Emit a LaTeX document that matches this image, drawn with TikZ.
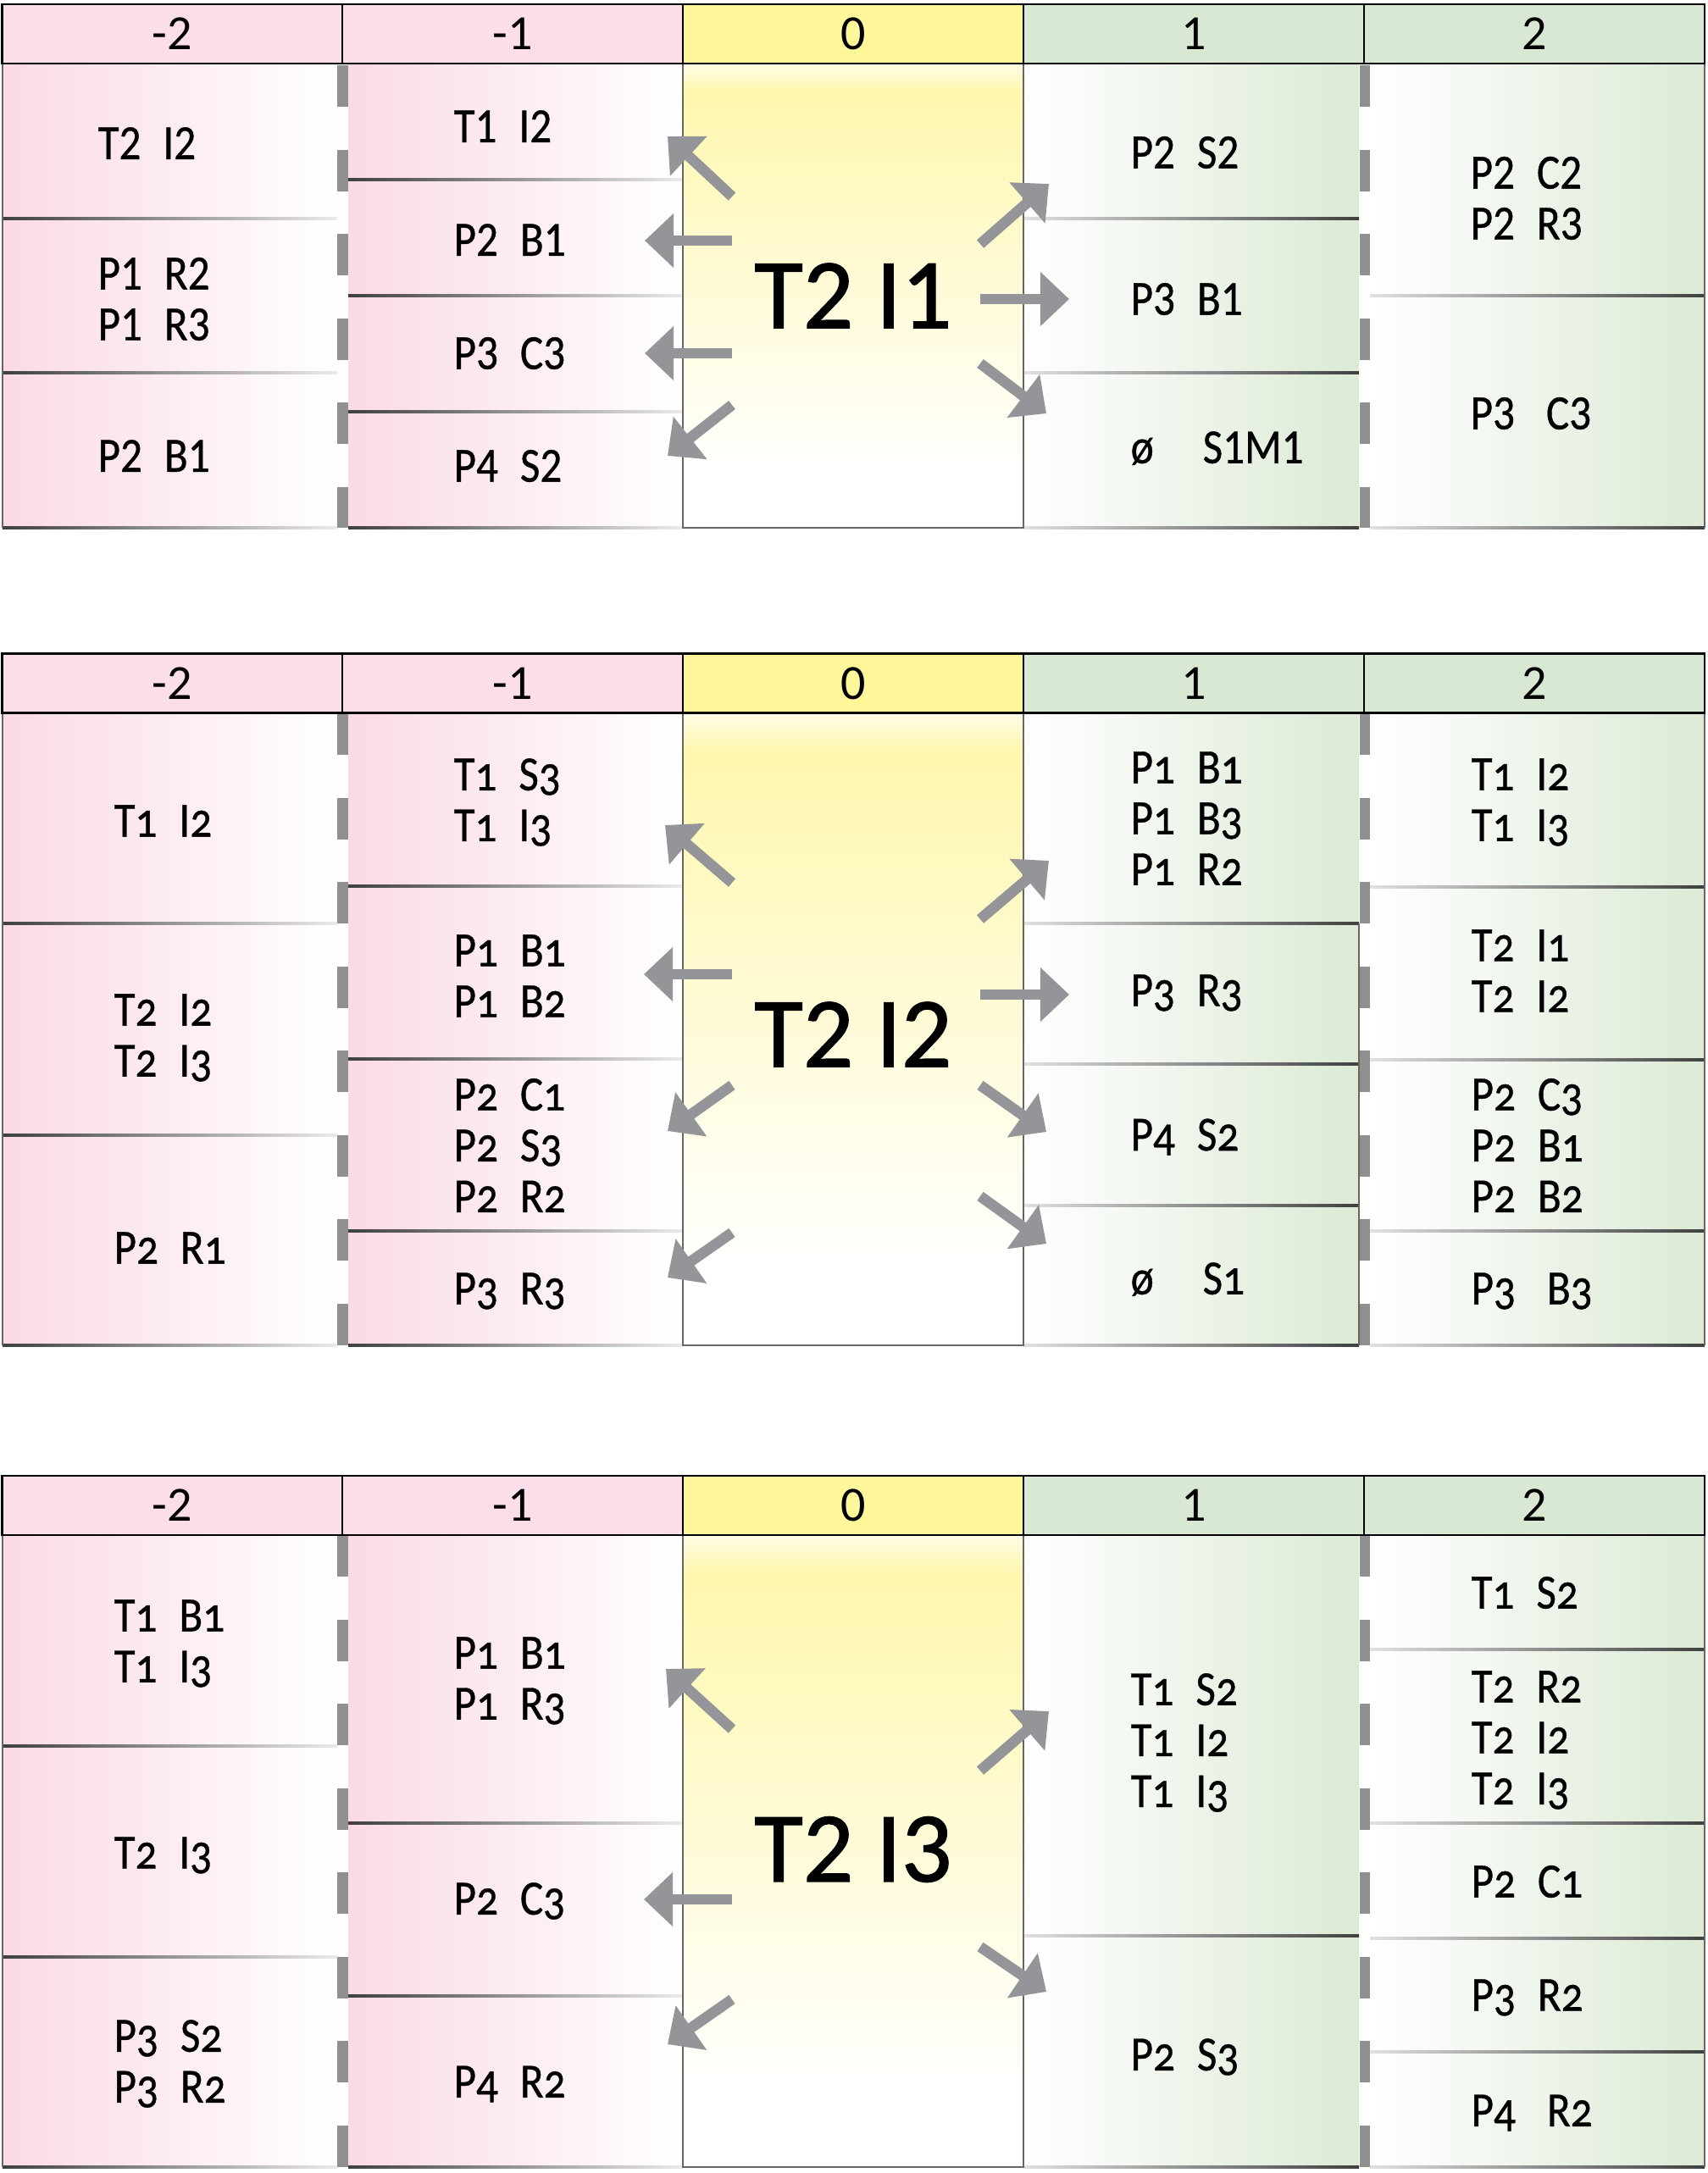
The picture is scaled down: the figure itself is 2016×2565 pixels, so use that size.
\documentclass[tikz,border=0pt]{standalone}
\usepackage{fontspec}
\usetikzlibrary{arrows.meta}
\setmainfont{Carlito}
\newfontfamily\fsa[FakeStretch=0.88,FakeBold=0.6]{Carlito}
\newfontfamily\fsb[FakeStretch=0.88,FakeBold=0.6,Numbers=OldStyle]{Carlito}
\newfontfamily\fbg[FakeBold=1.2]{Carlito}
\newfontfamily\fhd{Carlito}
\definecolor{hpink}{HTML}{FCDDEA}
\definecolor{hyel}{HTML}{FFF799}
\definecolor{hgreen}{HTML}{D9E8D3}
\definecolor{cpink}{HTML}{FADAE6}
\definecolor{cyel}{HTML}{FFF7AE}
\definecolor{cgreen}{HTML}{DCEAD6}
\definecolor{cgray}{HTML}{939598}
\definecolor{cdash}{HTML}{909090}
\newcommand\gp{\hspace{0.26cm}}
\newcommand\gpm{\hspace{0.37cm}}
\newcommand\gpw{\hspace{0.58cm}}
\begin{document}
\begin{tikzpicture}[x=0.01cm,y=-0.01cm,
  hdr/.style={draw=black, line width=0.025cm, minimum width=4.02cm, minimum height=0.70cm, inner sep=0pt, font=\fhd\fontsize{16.5}{18}\selectfont},
  txa/.style={anchor=west, inner sep=0pt, align=left, font=\fsa\fontsize{16.5}{17.1}\selectfont},
  txb/.style={anchor=west, inner sep=0pt, align=left, font=\fsb\fontsize{16.5}{17.1}\selectfont},
  big/.style={inner sep=0pt, font=\fbg\fontsize{33.5}{36}\selectfont},
  pinkfill/.style={left color=cpink, right color=white},
  greenfill/.style={left color=white, right color=cgreen},
  sepp/.style={left color=black!75, right color=black!8},
  sepg/.style={left color=black!12, right color=black!75},
  divider/.style={draw=cdash, line width=0.12cm, dash pattern=on 0.49cm off 0.505cm},
  frame/.style={draw=black!60, line width=0.02cm},
  arr/.style={draw=cgray, line width=0.125cm, -{Triangle[length=0.34cm,width=0.62cm]}}
]
\useasboundingbox (0,0) rectangle (2016,2565);
\fill[white] (0,0) rectangle (2016,2565);

% ================= PANEL 1 =================
\fill[pinkfill] (3,75) rectangle (398,623);
\fill[pinkfill] (411,75) rectangle (806,623);
\fill[greenfill] (1208,75) rectangle (1604,623);
\fill[greenfill] (1617,75) rectangle (2012,623);
\fill[top color=cyel!30!white, bottom color=cyel] (806,75) rectangle (1208,108);
\fill[top color=cyel, bottom color=white] (806,108) rectangle (1208,560);
\foreach \yy in {258,440,623} {\fill[sepp] (3,\yy-1.2) rectangle (398,\yy+1.2);}
\foreach \yy in {212,349,486,623} {\fill[sepp] (411,\yy-1.2) rectangle (806,\yy+1.2);}
\foreach \yy in {258,440,623} {\fill[sepg] (1208,\yy-1.2) rectangle (1604,\yy+1.2);}
\foreach \yy in {349,623} {\fill[sepg] (1617,\yy-1.2) rectangle (2012,\yy+1.2);}
\draw[frame] (3,75) -- (3,623);
\draw[frame] (2012,75) -- (2012,623);
\draw[frame] (806,75) -- (806,623) -- (1208,623) -- (1208,75);
\draw[divider] (404.5,77) -- (404.5,623);
\draw[divider] (1610.5,77) -- (1610.5,623);
\node[hdr, fill=hpink] (p1h1) at (203.5,40) {-2};
\node[hdr, fill=hpink] (p1h2) at (605,40) {-1};
\node[hdr, fill=hyel] (p1h3) at (1007,40) {0};
\node[hdr, fill=hgreen] (p1h4) at (1409,40) {1};
\node[hdr, fill=hgreen] (p1h5) at (1811,40) {2};
\node[txa] (p1a1) at (115,169) {T2\gp I2};
\node[txa] (p1a2) at (115,353) {P1\gp R2\\P1\gp R3};
\node[txa] (p1a3) at (115,538) {P2\gp B1};
\node[txa] (p1b1) at (535,149) {T1\gp I2};
\node[txa] (p1b2) at (535,283) {P2\gp B1};
\node[txa] (p1b3) at (535,417) {P3\gp C3};
\node[txa] (p1b4) at (535,550) {P4\gp S2};
\node[txa] (p1d1) at (1334,180) {P2\gp S2};
\node[txa] (p1d2) at (1334,353) {P3\gp B1};
\node[txa] (p1d3) at (1334,529) {ø\gpw S1M1};
\node[txa] (p1e1) at (1735,234) {P2\gp C2\\P2\gp R3};
\node[txa] (p1e2) at (1735,488) {P3\gpm C3};
\node[big] (p1c) at (1007,349) {T2 I1};
\coordinate (p1s1) at (864,232);  \coordinate (p1t1) at (788,161);
\coordinate (p1s2) at (864,284);  \coordinate (p1t2) at (761,284);
\coordinate (p1s3) at (864,417);  \coordinate (p1t3) at (761,417);
\coordinate (p1s4) at (864,478);  \coordinate (p1t4) at (788,538);
\coordinate (p1s5) at (1157,288); \coordinate (p1t5) at (1238,217);
\coordinate (p1s6) at (1157,353); \coordinate (p1t6) at (1262,353);
\coordinate (p1s7) at (1157,429); \coordinate (p1t7) at (1235,488);
\foreach \i in {1,...,7} {\draw[arr] (p1s\i) -- (p1t\i);}

% ================= PANEL 2 =================
\fill[pinkfill] (3,842) rectangle (398,1588);
\fill[pinkfill] (411,842) rectangle (806,1588);
\fill[greenfill] (1208,842) rectangle (1604,1588);
\fill[greenfill] (1617,842) rectangle (2012,1588);
\fill[top color=cyel!30!white, bottom color=cyel] (806,842) rectangle (1208,887);
\fill[top color=cyel, bottom color=white] (806,887) rectangle (1208,1500);
\foreach \yy in {1090,1340,1588} {\fill[sepp] (3,\yy-1.2) rectangle (398,\yy+1.2);}
\foreach \yy in {1046,1250,1453,1588} {\fill[sepp] (411,\yy-1.2) rectangle (806,\yy+1.2);}
\foreach \yy in {1090,1256,1423,1588} {\fill[sepg] (1208,\yy-1.2) rectangle (1604,\yy+1.2);}
\foreach \yy in {1047,1251,1453,1588} {\fill[sepg] (1617,\yy-1.2) rectangle (2012,\yy+1.2);}
\draw[frame] (3,842) -- (3,1588);
\draw[frame] (2012,842) -- (2012,1588);
\draw[frame] (1604,1090) -- (1604,1588);
\draw[frame] (806,842) -- (806,1588) -- (1208,1588) -- (1208,842);
\draw[divider] (404.5,842) -- (404.5,1588);
\draw[divider] (1610.5,842) -- (1610.5,1588);
\node[hdr, fill=hpink] (p2h1) at (203.5,806.5) {-2};
\node[hdr, fill=hpink] (p2h2) at (605,806.5) {-1};
\node[hdr, fill=hyel] (p2h3) at (1007,806.5) {0};
\node[hdr, fill=hgreen] (p2h4) at (1409,806.5) {1};
\node[hdr, fill=hgreen] (p2h5) at (1811,806.5) {2};
\node[txb] (p2a1) at (134,969) {T1\gp I2};
\node[txb] (p2a2) at (134,1225) {T2\gp I2\\T2\gp I3};
\node[txb] (p2a3) at (134,1473) {P2\gp R1};
\node[txb] (p2b1) at (535,947) {T1\gp S3\\T1\gp I3};
\node[txb] (p2b2) at (535,1152) {P1\gp B1\\P1\gp B2};
\node[txb] (p2b3) at (535,1352) {P2\gp C1\\P2\gp S3\\P2\gp R2};
\node[txb] (p2b4) at (535,1524) {P3\gp R3};
\node[txb] (p2d1) at (1334,966) {P1\gp B1\\P1\gp B3\\P1\gp R2};
\node[txb] (p2d2) at (1334,1172) {P3\gp R3};
\node[txb] (p2d3) at (1334,1342) {P4\gp S2};
\node[txb] (p2d4) at (1334,1510) {ø\gpw S1};
\node[txb] (p2e1) at (1736,947) {T1\gp I2\\T1\gp I3};
\node[txb] (p2e2) at (1736,1146) {T2\gp I1\\T2\gp I2};
\node[txb] (p2e3) at (1736,1352) {P2\gp C3\\P2\gp B1\\P2\gp B2};
\node[txb] (p2e4) at (1736,1524) {P3\gpm B3};
\node[big] (p2c) at (1007,1221) {T2 I2};
\coordinate (p2s1) at (864,1042);  \coordinate (p2t1) at (785,974);
\coordinate (p2s2) at (864,1150);  \coordinate (p2t2) at (760,1150);
\coordinate (p2s3) at (864,1281);  \coordinate (p2t3) at (788,1335);
\coordinate (p2s4) at (864,1455);  \coordinate (p2t4) at (788,1508);
\coordinate (p2s5) at (1157,1085); \coordinate (p2t5) at (1238,1016);
\coordinate (p2s6) at (1157,1174); \coordinate (p2t6) at (1262,1174);
\coordinate (p2s7) at (1157,1281); \coordinate (p2t7) at (1235,1336);
\coordinate (p2s8) at (1157,1412); \coordinate (p2t8) at (1235,1468);
\foreach \i in {1,...,8} {\draw[arr] (p2s\i) -- (p2t\i);}

% ================= PANEL 3 =================
\fill[pinkfill] (3,1812) rectangle (398,2558);
\fill[pinkfill] (411,1812) rectangle (806,2558);
\fill[greenfill] (1208,1812) rectangle (1604,2558);
\fill[greenfill] (1617,1812) rectangle (2012,2558);
\fill[top color=cyel!30!white, bottom color=cyel] (806,1812) rectangle (1208,1857);
\fill[top color=cyel, bottom color=white] (806,1857) rectangle (1208,2470);
\foreach \yy in {2061,2310,2558} {\fill[sepp] (3,\yy-1.2) rectangle (398,\yy+1.2);}
\foreach \yy in {2152,2356,2558} {\fill[sepp] (411,\yy-1.2) rectangle (806,\yy+1.2);}
\foreach \yy in {2285,2558} {\fill[sepg] (1208,\yy-1.2) rectangle (1604,\yy+1.2);}
\foreach \yy in {1947,2152,2288,2422,2558} {\fill[sepg] (1617,\yy-1.2) rectangle (2012,\yy+1.2);}
\draw[frame] (3,1812) -- (3,2558);
\draw[frame] (2012,1812) -- (2012,2558);
\draw[frame] (806,1812) -- (806,2558) -- (1208,2558) -- (1208,1812);
\draw[divider] (404.5,1812) -- (404.5,2558);
\draw[divider] (1610.5,1812) -- (1610.5,2558);
\node[hdr, fill=hpink] (p3h1) at (203.5,1777) {-2};
\node[hdr, fill=hpink] (p3h2) at (605,1777) {-1};
\node[hdr, fill=hyel] (p3h3) at (1007,1777) {0};
\node[hdr, fill=hgreen] (p3h4) at (1409,1777) {1};
\node[hdr, fill=hgreen] (p3h5) at (1811,1777) {2};
\node[txb] (p3a1) at (134,1940) {T1\gp B1\\T1\gp I3};
\node[txb] (p3a2) at (134,2190) {T2\gp I3};
\node[txb] (p3a3) at (134,2436) {P3\gp S2\\P3\gp R2};
\node[txb] (p3b1) at (535,1984) {P1\gp B1\\P1\gp R3};
\node[txb] (p3b2) at (535,2244) {P2\gp C3};
\node[txb] (p3b3) at (535,2460) {P4\gp R2};
\node[txb] (p3d1) at (1334,2057) {T1\gp S2\\T1\gp I2\\T1\gp I3};
\node[txb] (p3d2) at (1334,2428) {P2\gp S3};
\node[txb] (p3e1) at (1736,1880) {T1\gp S2};
\node[txb] (p3e2) at (1736,2054) {T2\gp R2\\T2\gp I2\\T2\gp I3};
\node[txb] (p3e3) at (1736,2221) {P2\gp C1};
\node[txb] (p3e4) at (1736,2358) {P3\gp R2};
\node[txb] (p3e5) at (1736,2494) {P4\gpm R2};
\node[big] (p3c) at (1007,2183) {T2 I3};
\coordinate (p3s1) at (864,2041);  \coordinate (p3t1) at (786,1970);
\coordinate (p3s2) at (864,2242);  \coordinate (p3t2) at (760,2242);
\coordinate (p3s3) at (864,2360);  \coordinate (p3t3) at (788,2413);
\coordinate (p3s4) at (1157,2090); \coordinate (p3t4) at (1238,2020);
\coordinate (p3s5) at (1157,2298); \coordinate (p3t5) at (1235,2351);
\foreach \i in {1,...,5} {\draw[arr] (p3s\i) -- (p3t\i);}
\end{tikzpicture}
\end{document}
